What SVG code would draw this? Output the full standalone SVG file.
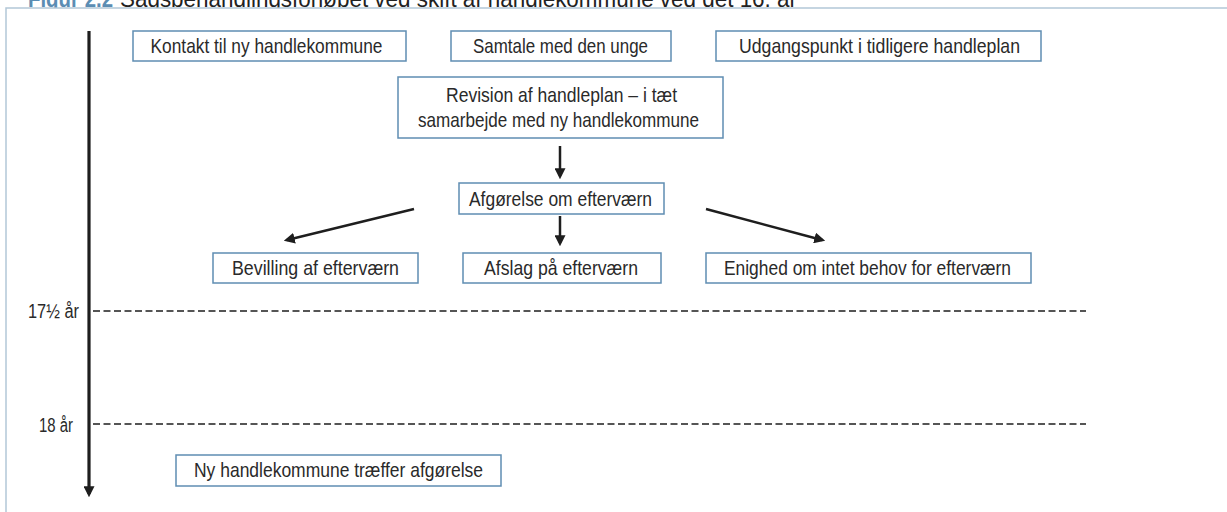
<svg xmlns="http://www.w3.org/2000/svg" width="1227" height="512" viewBox="0 0 1227 512">
<style>
.box{fill:#fff;stroke:#5f8db2;stroke-width:1.5}
.t{font-family:"Liberation Sans",Arial,sans-serif;font-size:21px;fill:#2a2a2a;text-anchor:middle}
.lbl{font-family:"Liberation Sans",Arial,sans-serif;font-size:20px;fill:#2a2a2a;text-anchor:end}
.arr{stroke:#1e1e1e;stroke-width:2.5;fill:none;marker-end:url(#ah)}
.dash{stroke:#1e1e1e;stroke-width:1.7;stroke-dasharray:7 3.5;fill:none}
</style>
<defs>
<marker id="ah" markerUnits="userSpaceOnUse" viewBox="0 0 10 10" refX="7" refY="5" markerWidth="11" markerHeight="11" orient="auto">
<path d="M0,0 L10,5 L0,10 z" fill="#1e1e1e"/>
</marker>
</defs>
<rect width="1227" height="512" fill="#fff"/>
<g id="title">
<text x="28" y="7" font-family="'Liberation Sans',Arial,sans-serif" font-size="24" font-weight="bold" fill="#5b8db3" textLength="85" lengthAdjust="spacingAndGlyphs">Figur 2.2</text>
<text x="120" y="7" font-family="'Liberation Sans',Arial,sans-serif" font-size="24" fill="#222" textLength="677" lengthAdjust="spacingAndGlyphs">Sagsbehandlingsforløbet ved skift af handlekommune ved det 16. år</text>
</g>
<rect id="frame" x="6" y="8" width="1240" height="520" fill="#fff" stroke="#b3c7d7" stroke-width="1.5"/>
<g id="timeline">
<line x1="89" y1="31" x2="89" y2="494" stroke="#1e1e1e" stroke-width="3.2" marker-end="url(#ah)"/>
<line class="dash" x1="93" y1="311" x2="1086" y2="311"/>
<line class="dash" x1="93" y1="424" x2="1086" y2="424"/>
<text class="lbl" x="79" y="318" textLength="51" lengthAdjust="spacingAndGlyphs">17½ år</text>
<text class="lbl" x="73" y="432" textLength="34" lengthAdjust="spacingAndGlyphs">18 år</text>
</g>
<g id="connectors">
<line class="arr" x1="560" y1="146" x2="560" y2="176"/>
<line class="arr" x1="560" y1="216" x2="560" y2="243"/>
<line class="arr" x1="414" y1="209" x2="287" y2="240"/>
<line class="arr" x1="706" y1="209" x2="822" y2="240"/>
</g>
<g id="n1"><rect class="box" x="133" y="31" width="273" height="30"/><text class="t" x="266.5" y="52.5" textLength="232" lengthAdjust="spacingAndGlyphs">Kontakt til ny handlekommune</text></g>
<g id="n2"><rect class="box" x="451" y="31" width="220" height="30"/><text class="t" x="560.5" y="52.5" textLength="175" lengthAdjust="spacingAndGlyphs">Samtale med den unge</text></g>
<g id="n3"><rect class="box" x="716" y="31" width="325" height="30"/><text class="t" x="879.5" y="52.5" textLength="281" lengthAdjust="spacingAndGlyphs">Udgangspunkt i tidligere handleplan</text></g>
<g id="n4"><rect class="box" x="398" y="77" width="325" height="61"/><text class="t" x="561.5" y="102" textLength="231" lengthAdjust="spacingAndGlyphs">Revision af handleplan – i tæt</text><text class="t" x="558.5" y="127" textLength="281" lengthAdjust="spacingAndGlyphs">samarbejde med ny handlekommune</text></g>
<g id="n5"><rect class="box" x="459" y="183" width="205" height="31"/><text class="t" x="560.5" y="205.5" textLength="183" lengthAdjust="spacingAndGlyphs">Afgørelse om efterværn</text></g>
<g id="n6"><rect class="box" x="213" y="253" width="205" height="30"/><text class="t" x="315.5" y="274.5" textLength="167" lengthAdjust="spacingAndGlyphs">Bevilling af efterværn</text></g>
<g id="n7"><rect class="box" x="463" y="253" width="198" height="30"/><text class="t" x="561" y="274.5" textLength="154" lengthAdjust="spacingAndGlyphs">Afslag på efterværn</text></g>
<g id="n8"><rect class="box" x="706" y="253" width="325" height="30"/><text class="t" x="867.5" y="274.5" textLength="287" lengthAdjust="spacingAndGlyphs">Enighed om intet behov for efterværn</text></g>
<g id="n9"><rect class="box" x="176" y="455" width="325" height="31"/><text class="t" x="338.5" y="476.5" textLength="289" lengthAdjust="spacingAndGlyphs">Ny handlekommune træffer afgørelse</text></g>
</svg>
